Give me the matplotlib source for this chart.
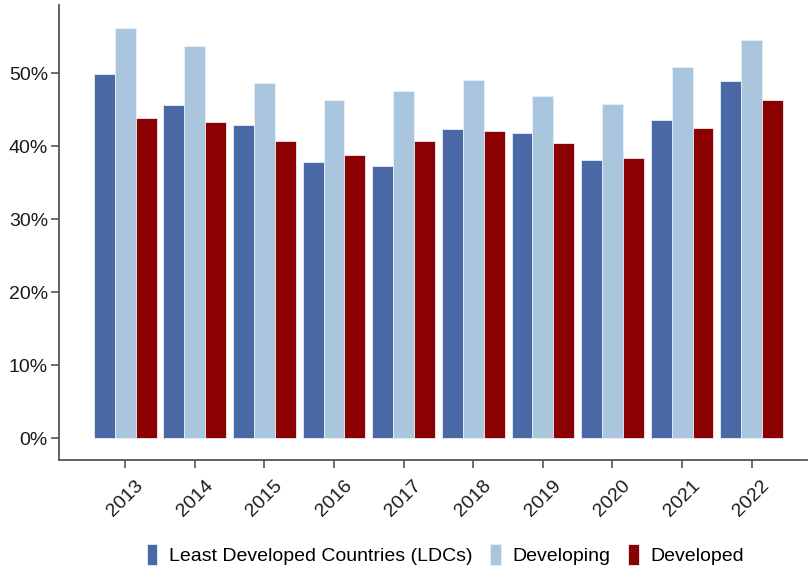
import numpy as np
import matplotlib.pyplot as plt
from matplotlib.ticker import PercentFormatter

plt.rcParams['font.family'] = ['Liberation Sans', 'DejaVu Sans']

# Values (share, %)
years = ['2013', '2014', '2015', '2016', '2017', '2018', '2019', '2020', '2021', '2022']
ldc = [49.9, 45.6, 42.9, 37.8, 37.3, 42.3, 41.8, 38.1, 43.6, 48.9]
developing = [56.2, 53.7, 48.6, 46.3, 47.5, 49.0, 46.8, 45.8, 50.8, 54.5]
developed = [43.8, 43.3, 40.7, 38.8, 40.7, 42.1, 40.4, 38.4, 42.5, 46.3]

series_names = ['Least Developed Countries (LDCs)', 'Developing', 'Developed']
colors = ['#4a68a6', '#a9c6de', '#8b0000']

fig = plt.figure(figsize=(8.09, 5.68), dpi=100)
ax = fig.add_axes([0.073, 0.19, 0.925, 0.801])

x = np.arange(len(years))
w = 0.3
for i, (vals, name, col) in enumerate(zip([ldc, developing, developed], series_names, colors)):
    ax.bar(x + (i - 1) * w, vals, width=w, color=col, edgecolor='#e8eef6', linewidth=0.6, label=name)

ax.set_xlim(-0.95, 9.8)
ax.set_ylim(-3.0, 59.3)
ax.set_yticks([0, 10, 20, 30, 40, 50])
ax.yaxis.set_major_formatter(PercentFormatter(decimals=0))
ax.set_xticks(x)
ax.set_xticklabels(years, rotation=45, ha='center')

for s in ['top', 'right']:
    ax.spines[s].set_visible(False)
for s in ['left', 'bottom']:
    ax.spines[s].set_color('#555555')
    ax.spines[s].set_linewidth(1.3)
ax.tick_params(colors='#555555', length=6, width=1.2, labelsize=14, labelcolor='#1a1a1a')
ax.tick_params(axis='y', pad=2)
ax.tick_params(axis='x', pad=6)

ax.legend(loc='center', bbox_to_anchor=(0.516, -0.208), ncol=3, frameon=False,
          fontsize=14, handlelength=0.55, handleheight=1.3, handletextpad=0.6, columnspacing=0.9)

fig.savefig('out.png', dpi=100)
